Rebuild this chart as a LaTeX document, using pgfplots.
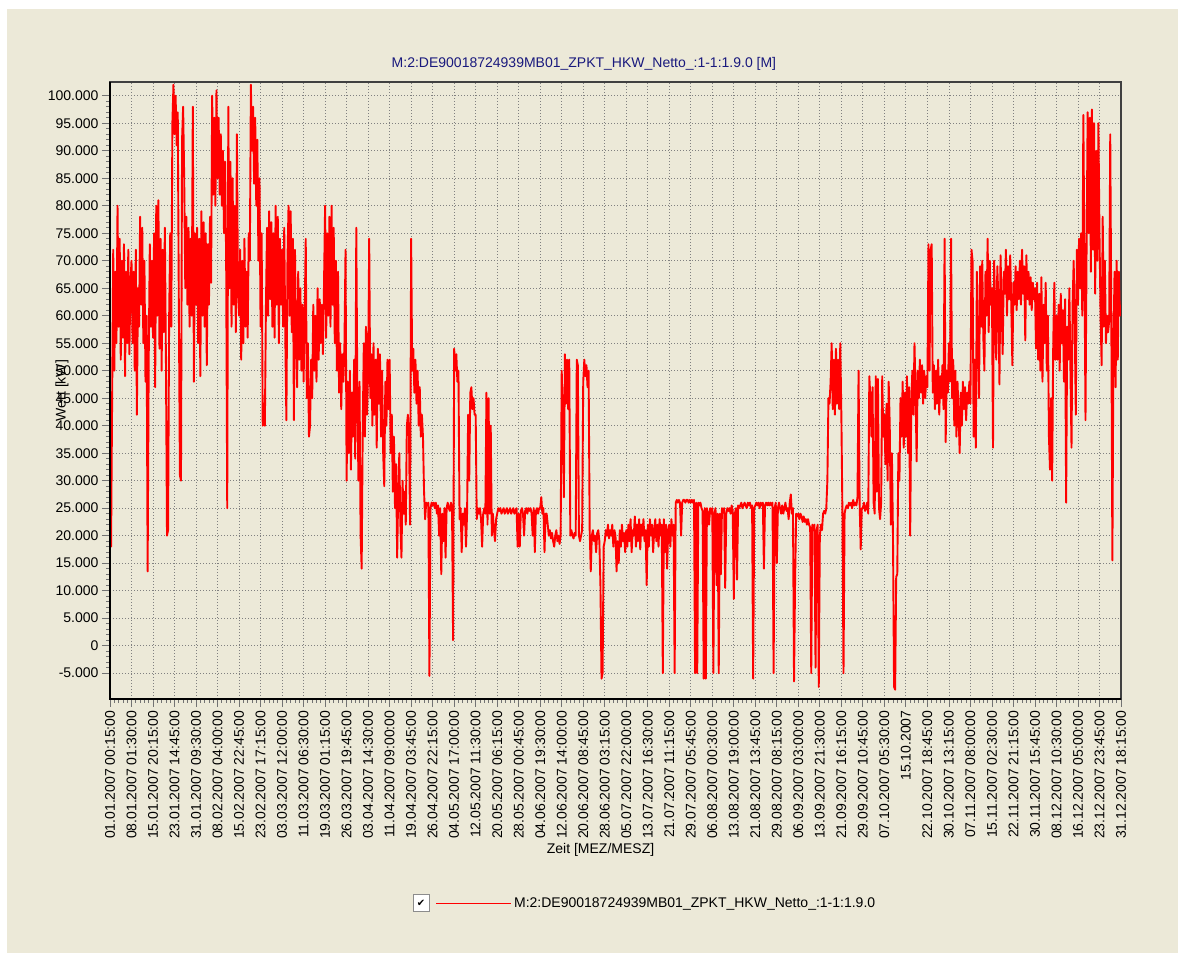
\documentclass[border=0pt]{standalone}
\usepackage{fontspec}
\setmainfont{Liberation Sans}
\newfontfamily\dejavu{DejaVu Sans}
\usepackage{pgfplots}
\pgfplotsset{compat=1.18}
\definecolor{bg}{RGB}{236,233,216}
\definecolor{titleblue}{RGB}{25,25,125}
\newcommand{\fs}{\fontsize{14pt}{16pt}\selectfont}
\begin{document}
\begin{tikzpicture}[x=1pt,y=1pt]
\path[use as bounding box] (0,0) rectangle (1178,953);
\fill[white] (0,0) rectangle (1178,953);
\fill[bg] (7,0) rectangle (1178,944);
\begin{axis}[
  at={(110pt,254pt)}, anchor=south west,
  scale only axis, width=1011pt, height=617pt,
  xmin=0, xmax=47, ymin=-9700, ymax=102500,
  scaled y ticks=false,
  xtick={0,...,47},
  xticklabels={01.01.2007 00:15:00,08.01.2007 01:30:00,15.01.2007 20:15:00,23.01.2007 14:45:00,31.01.2007 09:30:00,08.02.2007 04:00:00,15.02.2007 22:45:00,23.02.2007 17:15:00,03.03.2007 12:00:00,11.03.2007 06:30:00,19.03.2007 01:15:00,26.03.2007 19:45:00,03.04.2007 14:30:00,11.04.2007 09:00:00,19.04.2007 03:45:00,26.04.2007 22:15:00,04.05.2007 17:00:00,12.05.2007 11:30:00,20.05.2007 06:15:00,28.05.2007 00:45:00,04.06.2007 19:30:00,12.06.2007 14:00:00,20.06.2007 08:45:00,28.06.2007 03:15:00,05.07.2007 22:00:00,13.07.2007 16:30:00,21.07.2007 11:15:00,29.07.2007 05:45:00,06.08.2007 00:30:00,13.08.2007 19:00:00,21.08.2007 13:45:00,29.08.2007 08:15:00,06.09.2007 03:00:00,13.09.2007 21:30:00,21.09.2007 16:15:00,29.09.2007 10:45:00,07.10.2007 05:30:00,15.10.2007,22.10.2007 18:45:00,30.10.2007 13:15:00,07.11.2007 08:00:00,15.11.2007 02:30:00,22.11.2007 21:15:00,30.11.2007 15:45:00,08.12.2007 10:30:00,16.12.2007 05:00:00,23.12.2007 23:45:00,31.12.2007 18:15:00},
  ytick={-5000,0,...,100000},
  yticklabels={-5.000,0,5.000,10.000,15.000,20.000,25.000,30.000,35.000,40.000,45.000,50.000,55.000,60.000,65.000,70.000,75.000,80.000,85.000,90.000,95.000,100.000},
  minor x tick num=4, minor y tick num=4,
  xtick pos=bottom, ytick pos=left,
  tick align=outside, major tick length=8pt, minor tick length=4pt,
  every tick/.style={black!55, line width=0.8pt},
  grid=major,
  major grid style={draw=black!50, line width=0.8pt, dash pattern=on 1pt off 2pt},
  axis line style={draw=black!75, line width=1.5pt},
  xticklabel style={rotate=90, anchor=east, font=\fs},
  yticklabel style={font=\fs},
  title={M:2:DE90018724939MB01\_ZPKT\_HKW\_Netto\_:1-1:1.9.0 [M]},
  title style={at={(axis description cs:0.4688,1.0292)}, anchor=center, yshift=-6pt, text=titleblue, font=\fs},
  xlabel={Zeit [MEZ/MESZ]},
  xlabel style={at={(axis description cs:0.4852,-0.2447)}, anchor=center, font=\fs},
  ylabel={Wert [kW]},
  ylabel style={at={(axis description cs:-0.0475,0.5)}, anchor=center, font=\fs},
  legend image code/.code={\path (0pt,0pt) -- (74pt,0pt);},
  legend style={at={(axis description cs:0.3225,-0.3314)}, anchor=west, draw=none, fill=none, inner sep=0pt, font=\fs},
]
\addplot[red, line width=1.9pt, line join=round, mark=none]
  table[row sep=\\, x expr=\coordindex/20, y expr=\thisrowno{0}*1000] {
25\\18\\45\\72\\50\\68\\55\\80\\58\\74\\52\\70\\56\\73\\49\\68\\55\\72\\53\\66\\
70\\55\\68\\50\\72\\42\\65\\58\\78\\62\\76\\55\\70\\48\\60\\13.5\\52\\73\\58\\70\\
56\\75\\47\\80\\60\\81\\54\\74\\50\\72\\57\\76\\52\\20\\21\\60\\75\\58\\95\\102\\
93\\100\\91\\97\\62\\31\\30\\92\\98\\85\\65\\78\\62\\76\\58\\74\\60\\98\\48\\75\\
62\\76\\55\\74\\49\\79\\60\\77\\58\\75\\51\\73\\62\\78\\66\\100\\82\\96\\80\\101\\
85\\96\\82\\93\\80\\90\\75\\88\\70\\25\\98\\65\\88\\58\\85\\62\\80\\57\\93\\64\\
60\\72\\52\\70\\55\\74\\58\\68\\56\\75\\70\\102\\90\\98\\84\\96\\80\\92\\70\\85\\
58\\75\\40\\44\\40\\62\\76\\60\\79\\63\\77\\58\\75\\56\\80\\62\\78\\55\\74\\62\\
72\\58\\76\\56\\41\\70\\80\\60\\79\\57\\74\\41\\72\\55\\47\\68\\52\\65\\50\\62\\
48\\60\\74\\45\\55\\38\\40\\52\\45\\62\\50\\60\\48\\65\\52\\63\\55\\62\\53\\66\\
80\\56\\75\\60\\78\\58\\80\\62\\76\\55\\70\\50\\68\\46\\55\\43\\53\\48\\55\\72\\
30\\48\\35\\50\\32\\46\\38\\52\\34\\76\\45\\30\\48\\20\\14\\40\\55\\38\\58\\42\\
50\\74\\45\\53\\40\\55\\42\\52\\36\\54\\44\\53\\38\\50\\35\\29\\48\\40\\52\\43\\
52\\35\\42\\28\\38\\25\\33\\16\\28\\35\\22\\16\\30\\24\\28\\22\\40\\42\\38\\22\\
74\\50\\54\\46\\52\\44\\50\\40\\47\\38\\42\\38\\28\\23\\26\\25.5\\26\\-5.5\\25\\26\\
25.5\\26\\25\\26\\24\\25.5\\20\\25\\13\\24\\19\\25\\16\\25\\26\\25\\24.5\\26\\25\\1\\
54\\50\\53\\48\\50\\23\\25\\17\\24\\22\\25\\18\\24\\42\\30\\46\\47\\43\\45\\42\\
42\\23\\25\\24\\25\\23\\18\\24\\25\\24\\46\\22\\45\\24\\40\\20\\24\\21\\19\\23\\
24\\25\\24.5\\25\\24\\24.5\\25\\24\\24.5\\25\\24\\24.5\\25\\24\\24.5\\25\\24\\24.5\\25\\18\\
24\\18\\24.5\\25\\24\\20\\24.5\\25\\24\\25\\24.5\\25\\24\\20\\25\\17\\24.5\\25\\24\\25\\
25\\27\\24\\25\\17\\24\\24\\22\\20\\21\\19.5\\20.5\\19\\18\\20\\21\\19\\20\\18.5\\20\\
50\\42\\27\\53\\44\\52\\43\\52\\20\\21\\20\\19.5\\20.5\\20\\52\\51\\20\\19\\20\\21\\
48\\52\\49\\51\\47\\50\\21\\13.5\\20\\21\\19\\20\\17\\20.5\\21\\19\\11\\-6\\-5\\18\\
19\\21\\20\\22\\19.5\\21\\20\\22\\18\\21\\20\\13.5\\19\\15\\21\\18\\22\\19\\20.5\\17\\
21\\18\\22\\19\\23\\17\\21\\20\\23.5\\18\\22\\19\\23\\17.5\\22\\20\\23\\19\\21\\11\\
22\\18\\23\\20\\22\\17\\21\\23\\19\\22\\18\\23\\20\\22\\-5\\23\\17\\22\\14\\21\\
22\\18\\23\\20\\22\\-5\\26\\26.5\\26\\26.5\\26\\20\\26\\26.5\\26.5\\26\\26.5\\26.5\\26\\26.5\\
26\\26.5\\26\\26.5\\-5\\26\\-5\\26\\25.5\\26\\25\\24.5\\-6\\25\\-6\\25\\24\\22\\25\\24\\
25\\-5\\24\\25\\11\\24\\-5\\24\\13\\25\\24.5\\25\\10.5\\24\\25\\24.5\\25\\24\\25.5\\24.5\\
8.5\\24\\25\\12\\25.5\\25\\25.5\\26\\25\\25.5\\26\\25.5\\25\\26\\25.5\\26\\25\\25.5\\-6\\25\\
25.5\\26\\25.5\\26\\25\\26\\25.5\\26\\14\\25.5\\26\\25.5\\26\\25.5\\26\\25.5\\26\\-5\\25\\26\\
15\\25\\26\\25\\24\\25.5\\24\\25\\26\\24.5\\25\\23\\26\\27.5\\24\\25\\-6.5\\12\\24\\23.5\\
24\\23\\24\\23.5\\22.5\\23.5\\22.5\\23\\22\\23\\22\\21.5\\-5\\22\\21\\22\\-4\\21\\22\\-7.5\\
20\\22\\21\\24\\24.5\\24\\25\\30\\45\\44\\48\\55\\43\\52\\42\\54\\44\\52\\43\\55\\
42\\24\\-5\\24\\25\\25.5\\25\\26\\25.5\\26\\25\\26.5\\25.5\\26\\25.5\\27\\50\\26\\17.5\\25\\
25\\26\\24.5\\25\\26\\24\\49\\45\\38\\47\\26\\24\\49\\28\\48.5\\25\\23\\26\\49\\38\\
42\\33\\44\\30\\48\\40\\22\\35\\20\\-7.5\\-8\\12.5\\13\\35\\30\\45\\38\\48\\36\\46\\
38\\49\\35\\47\\20\\44\\50\\42\\55\\46\\33.5\\50\\45\\52\\46\\51\\44\\50\\45\\49\\
47\\73\\50\\72\\73\\46\\51\\43\\50\\44\\52\\42\\49\\45\\51\\43\\74\\37\\50\\46\\
55\\48\\74\\45\\52\\40\\50\\38\\48\\42\\35\\46\\40\\48\\43\\47\\41\\46\\44\\48\\
44\\72\\70\\38\\52\\36\\68\\55\\45\\69\\58\\70\\56\\50\\68\\60\\74\\57\\70\\62\\
65\\36\\70\\62\\52\\69\\63\\47.5\\71\\62\\53\\68\\64\\72\\60\\69\\63\\71\\62\\51\\
66\\62\\69\\61\\68\\63\\70\\62\\72\\64\\69\\55.5\\71\\63\\68\\62\\67\\61\\66\\63\\
65\\54\\66\\52\\64\\50\\67\\48\\62\\55\\66\\50\\60\\38\\32\\45\\30\\55\\66\\52\\
60\\52\\62\\50\\64\\55\\61\\48\\63\\26\\58\\52\\65\\50\\36\\62\\70\\58\\42\\72\\
62\\74\\65\\75\\60\\96.5\\70\\41\\72\\97\\75\\96\\68\\97.5\\72\\95\\64\\90\\70\\95\\
75\\60\\51\\78\\58\\70\\55\\60\\57\\59\\93\\60\\15.5\\55\\68\\47\\70\\52\\68\\60\\
62\\
};
\addlegendentry{M:2:DE90018724939MB01\_ZPKT\_HKW\_Netto\_:1-1:1.9.0}
\end{axis}
\draw[black, line width=2.2pt] (110,871) -- (110,254) -- (1121,254);
\draw[red, line width=1.2pt] (436,49.5) -- (510,49.5);
\draw[draw=black!45, fill=white, line width=1pt] (413,41) rectangle (429,58);
\node at (421,49.5) {\dejavu\fontsize{10pt}{10pt}\selectfont ✔};
\end{tikzpicture}
\end{document}
